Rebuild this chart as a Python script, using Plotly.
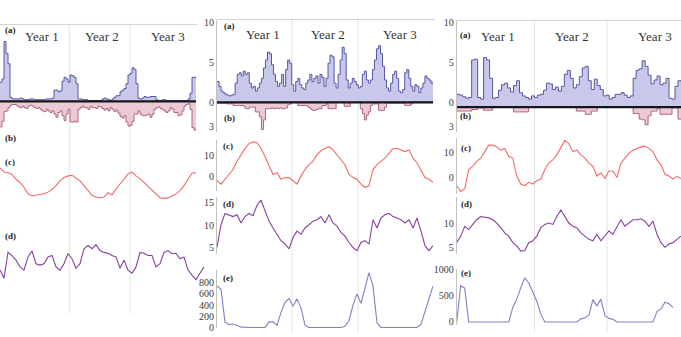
import numpy as np
import plotly.graph_objects as go

W, H = 681, 337
SERIF = "Liberation Serif, DejaVu Serif, serif"

# ---------------- data ----------------
year_labels = ["Year 1", "Year 2", "Year 3"]
panel_letters = ["(a)", "(b)", "(c)", "(d)", "(e)"]

# time span of each record (years) and year boundaries
left_span, left_d_span = 3.0, 3.12
mid_span, right_span = 3.0, 3.0
year_breaks_left = [1.06, 1.99]
year_breaks_mid = [1.04, 1.96]
year_breaks_right = [1.04, 2.01]

# ---- left panel ----
left_a = [2.4, 2.8, 7.5, 6.0, 4.7, 0.5, 0.3, 0.3, 0.3, 0.3,
          0.4, 0.3, 0.2, 0.2, 0.2, 0.3, 0.3, 0.2, 0.2, 0.2,
          0.2, 0.2, 0.2, 0.3, 0.3, 0.3, 0.4, 1.4, 1.4, 1.2,
          1.3, 2.5, 3.0, 2.8, 2.4, 3.3, 3.2, 3.0, 2.2, 0.3,
          0.3, 0.2, 0.2, 0.2, 0.1, 0.1, 0.1, 0.1, 0.1, 0.1,
          0.1, 0.3, 0.4, 0.3, 0.2, 0.1, 0.3, 0.5, 0.7, 0.7,
          1.2, 1.4, 1.6, 2.2, 3.3, 3.5, 4.2, 4.0, 2.2, 0.4,
          0.3, 0.4, 0.6, 0.5, 0.5, 0.6, 0.6, 0.6, 0.2, 0.1,
          0.1, 0.2, 0.2, 0.1, 0.1, 0.1, 0.1, 0.1, 0.1, 0.1,
          0.1, 0.1, 0.1, 0.1, 0.3, 1.0, 3.0, 3.0, 2.8]
left_b = [3.2, 2.5, 1.3, 1.2, 0.8, 0.5, 0.4, 0.4, 0.5, 0.7,
          0.8, 0.6, 0.8, 0.9, 0.6, 0.5, 0.6, 0.8, 0.9, 0.8,
          1.0, 1.2, 1.3, 1.0, 1.2, 1.4, 1.2, 1.6, 2.0, 1.4,
          1.2, 1.8, 2.4, 1.6, 1.0, 2.6, 2.6, 2.5, 2.6, 1.0,
          0.8, 0.6, 0.8, 0.8, 1.0, 0.6, 0.8, 0.8, 0.9, 0.6,
          0.7, 0.9, 1.1, 0.9, 1.2, 0.8, 1.0, 1.3, 1.1, 1.5,
          1.9, 2.1, 1.8, 2.6, 3.1, 3.0, 2.5, 1.6, 1.6, 1.2,
          1.6, 1.8, 1.8, 1.7, 1.6, 2.0, 1.6, 1.0, 0.8, 0.7,
          0.9, 1.0, 1.2, 1.4, 1.2, 0.8, 1.0, 1.4, 1.4, 1.8,
          1.7, 1.2, 0.6, 0.4, 0.3, 1.0, 3.3, 3.6, 3.4]
left_c = [9.8, 7.9, 7.6, 6.8, 4.5, 3.0, 0.8, -2.3, -3.3, -3.0,
          -2.7, -2.3, -1.5, -0.3, 1.5, 3.8, 5.3, 6.1, 6.4, 5.3,
          3.8, 1.5, -0.8, -3.0, -3.8, -4.1, -3.8, -1.8, -2.7, 0.0,
          2.3, 4.5, 7.0, 8.0, 6.1, 4.8, 3.0, 1.2, -0.8, -2.7,
          -4.1, -4.4, -4.2, -3.3, -2.3, -0.8, 1.5, 4.5, 7.3, 7.6]
left_d = [5.7, 3.9, 9.6, 8.9, 7.9, 6.4, 5.7, 8.6, 9.9, 7.1,
          6.8, 7.1, 8.6, 8.9, 6.4, 5.7, 7.1, 9.3, 8.2, 6.1,
          7.1, 10.4, 11.1, 10.4, 11.3, 10.0, 9.6, 9.4, 8.9, 8.6,
          6.1, 7.9, 5.7, 5.0, 6.4, 9.6, 9.4, 8.9, 8.9, 6.4,
          7.1, 9.6, 10.0, 9.3, 9.4, 8.2, 8.6, 5.7, 4.6, 3.6,
          5.0, 6.4]

# ---- middle panel ----
mid_a = [2.6, 2.0, 1.4, 1.2, 1.0, 0.9, 0.8, 0.9, 1.0, 2.4,
         3.5, 3.7, 3.3, 3.9, 3.5, 3.7, 2.4, 1.8, 2.0, 1.4,
         1.8, 2.4, 3.0, 4.3, 5.3, 6.3, 6.1, 4.7, 3.5, 2.6,
         2.0, 2.4, 3.5, 2.0, 4.1, 5.3, 4.9, 2.2, 1.4, 2.6,
         3.0, 2.2, 1.8, 1.6, 2.4, 2.8, 3.5, 2.6, 3.0, 3.3,
         2.4, 3.5, 3.1, 2.0, 3.0, 4.9, 5.9, 5.7, 2.4, 1.8,
         3.5, 5.3, 6.9, 6.1, 2.8, 1.8, 2.4, 3.0, 2.6, 2.2,
         1.8, 2.0, 3.5, 3.9, 2.8, 2.4, 2.8, 4.1, 5.3, 6.7,
         7.1, 6.1, 4.5, 2.8, 1.8, 1.4, 2.4, 3.5, 3.9, 3.0,
         1.4, 1.2, 1.6, 3.7, 4.1, 3.0, 2.0, 1.4, 2.2, 2.0,
         1.2, 1.8, 2.4, 3.3, 3.0, 2.8, 2.4, 2.6]
mid_b = [0.1, 0.1, 0.1, 0.1, 0.1, 0.2, 0.2, 0.2, 0.4, 0.4,
         0.4, 0.4, 0.4, 0.5, 0.8, 0.8, 0.6, 0.6, 0.6, 1.2,
         1.2, 1.8, 3.4, 2.2, 0.8, 0.8, 0.8, 0.7, 0.8, 0.7,
         0.8, 0.7, 0.8, 0.8, 0.7, 0.3, 0.2, 0.0, 0.0, 0.0,
         0.4, 0.4, 0.4, 0.4, 0.4, 0.6, 0.8, 1.0, 1.0, 0.9,
         0.8, 0.8, 0.4, 0.4, 0.2, 0.8, 0.8, 0.8, 0.8, 0.0,
         0.0, 0.0, 0.0, 0.5, 0.5, 0.5, 0.0, 0.0, 0.0, 0.0,
         0.0, 0.8, 1.4, 2.2, 1.6, 1.2, 0.4, 0.2, 0.2, 0.2,
         1.0, 1.0, 1.0, 0.6, 0.1, 0.1, 0.1, 0.1, 0.1, 0.1,
         0.1, 0.1, 0.1, 0.4, 0.4, 0.4, 0.2, 0.0, 0.0, 0.0,
         0.0, 0.0, 0.0, 0.0, 0.0, 0.0, 0.0, 0.0]
mid_c = [-1.8, -3.4, -1.1, 1.2, 3.5, 7.4, 10.5, 13.5, 15.8, 16.6,
         16.2, 13.5, 9.7, 5.1, 1.2, 2.0, -1.1, -0.3, -0.3, -1.8,
         -3.4, 0.5, 3.5, 5.8, 7.4, 10.5, 12.5, 13.5, 14.3, 12.8,
         10.5, 8.2, 5.8, 1.2, -0.3, -1.1, -3.4, -4.9, -4.2, 3.5,
         5.8, 7.4, 8.9, 11.2, 13.5, 13.5, 12.8, 12.0, 12.8, 8.9,
         6.6, 2.8, -0.3, -1.1, -2.6]
mid_d = [5.1, 10.1, 12.6, 12.3, 11.9, 12.3, 10.5, 11.9, 12.6, 12.1,
         14.4, 15.5, 13.0, 10.9, 9.4, 8.0, 6.6, 5.9, 4.8, 7.3,
         8.7, 8.0, 9.4, 10.1, 10.9, 11.2, 11.9, 10.5, 12.3, 10.5,
         9.8, 8.4, 7.6, 6.2, 5.1, 4.4, 6.2, 6.6, 5.9, 11.2,
         9.4, 11.6, 12.3, 12.6, 11.9, 11.6, 11.2, 10.5, 11.2, 9.4,
         11.6, 8.7, 5.5, 4.4, 5.5]
mid_e = [740, 680, 100, 50, 60, 40, 5, 0, 0, 0,
         0, 0, 0, 100, 100, 40, 270, 450, 520, 380,
         510, 350, 40, 0, 0, 0, 0, 0, 0, 0,
         0, 0, 20, 120, 400, 600, 430, 720, 980, 740,
         80, 0, 0, 0, 0, 0, 0, 0, 0, 0,
         0, 60, 300, 520, 740]

# ---- right panel ----
right_a = [1.0, 0.9, 0.7, 0.5, 0.6, 5.3, 5.4, 0.6, 0.4, 5.6,
           5.3, 3.0, 0.5, 0.6, 1.5, 2.2, 2.4, 1.8, 1.3, 2.1,
           2.7, 1.2, 0.8, 0.6, 0.4, 0.8, 0.6, 0.9, 1.0, 1.5,
           2.4, 2.3, 1.6, 1.9, 1.4, 2.0, 3.5, 4.0, 3.0, 1.8,
           2.2, 3.2, 4.3, 4.5, 2.7, 1.6, 2.9, 2.1, 1.6, 0.8,
           0.9, 0.4, 0.6, 1.0, 1.0, 1.2, 0.9, 0.6, 0.8, 3.0,
           4.0, 4.2, 5.2, 4.5, 3.4, 2.3, 2.8, 3.3, 2.2, 2.4,
           3.0, 0.5, 0.4, 2.0, 2.7, 2.6]
right_b = [0.5, 0.5, 0.5, 0.5, 0.5, 0.3, 0.3, 0.1, 0.1, 0.4,
           0.4, 0.4, 0.0, 0.0, 0.0, 0.0, 0.0, 0.0, 0.0, 0.6,
           0.6, 0.6, 0.6, 0.6, 0.0, 0.0, 0.0, 0.0, 0.0, 0.0,
           0.0, 0.0, 0.0, 0.0, 0.0, 0.0, 0.0, 0.0, 0.0, 0.0,
           0.5, 0.5, 0.5, 0.9, 0.9, 0.5, 0.5, 0.0, 0.0, 0.0,
           0.0, 0.0, 0.0, 0.0, 0.0, 0.0, 0.0, 0.0, 0.0, 0.8,
           0.8, 1.5, 1.6, 2.2, 1.1, 0.5, 0.5, 0.2, 0.9, 0.9,
           0.9, 0.9, 0.1, 0.1, 1.5, 1.5]
right_c = [-3.2, -5.6, -4.5, 3.2, 4.5, 6.5, 7.8, 10.4, 13.0, 13.0,
           12.3, 11.0, 11.7, 8.4, 7.8, 0.6, -2.6, -3.2, -1.9, -2.6,
           -1.3, -0.6, 3.2, 5.8, 7.1, 9.1, 12.3, 14.9, 13.6, 10.4,
           11.0, 9.1, 7.8, 5.8, 4.5, 0.6, 1.9, -0.4, 2.6, 2.6,
           0.0, 5.8, 7.8, 9.7, 11.0, 11.7, 12.3, 12.6, 11.7, 10.4,
           7.1, 5.2, 1.3, 0.6, -0.6, 0.6, -0.4]
right_d = [6.0, 7.4, 9.5, 8.8, 9.9, 10.9, 11.6, 11.4, 11.3, 10.9,
           10.2, 9.2, 8.1, 7.4, 6.0, 5.3, 4.2, 4.3, 6.0, 6.4,
           7.4, 9.2, 9.9, 10.2, 9.9, 11.6, 13.0, 11.6, 10.2, 9.5,
           9.2, 8.1, 7.4, 6.7, 6.4, 7.8, 6.4, 7.4, 8.5, 7.8,
           9.2, 10.9, 9.5, 10.2, 10.9, 10.9, 11.1, 10.6, 9.5, 10.6,
           7.8, 6.0, 5.0, 5.7, 6.0, 6.7, 7.4]
right_e = [0, 700, 650, 0, 0, 0, 0, 0, 0, 0,
           0, 0, 0, 0, 280, 440, 660, 850, 750, 580,
           400, 150, 0, 0, 0, 0, 0, 0, 0, 0,
           0, 60, 80, 125, 430, 310, 440, 120, 70, 50,
           0, 0, 0, 0, 0, 0, 0, 0, 0, 0,
           200, 250, 380, 350, 280, None, None]

ab_ticks, ab_text = [10, 5, 0, -3], ["10", "5", "0", "3"]
mid_c_ticks = [10, 0]
mid_d_ticks = [15, 10, 5]
mid_e_ticks = [800, 600, 400, 200, 0]
right_c_ticks = [10, 0]
right_d_ticks = [10, 5]
right_e_ticks = [1000, 500, 0]

# ---------------- styles ----------------
A_LINE, A_FILL = "#5656a6", "rgba(190,190,232,0.85)"
B_LINE, B_FILL = "#b0647e", "rgba(234,196,208,0.9)"
C_LINE, D_LINE, E_LINE = "#f26a6a", "#86409e", "#8080c8"
GRID = "#e2e2e2"

fig = go.Figure()
axes_layout = {}
count = {"n": 0}


def fx(p):
    return p / W


def fy(p):
    return 1 - p / H


def make_axes(xpx, ypx, yrange, xrange=(0, 3.0), tickvals=None, ticktext=None, linecolor="#c2c2c2"):
    count["n"] += 1
    s = "" if count["n"] == 1 else str(count["n"])
    axes_layout["xaxis" + s] = dict(domain=[fx(xpx[0]), fx(xpx[1])], range=list(xrange),
                                    visible=False, anchor="y" + s, fixedrange=True)
    ya = dict(domain=[fy(ypx[1]), fy(ypx[0])], range=list(yrange), anchor="x" + s,
              showgrid=False, zeroline=False, showline=True, linecolor=linecolor, linewidth=1,
              ticks="", fixedrange=True,
              tickfont=dict(family=SERIF, size=10, color="#3a3a3a"))
    if tickvals is None:
        ya["showticklabels"] = False
    else:
        ya["tickmode"] = "array"
        ya["tickvals"] = tickvals
        ya["ticktext"] = ticktext if ticktext is not None else [str(v) for v in tickvals]
    axes_layout["yaxis" + s] = ya
    return "x" + s, "y" + s


def tr(t, y, ax, color, width=1.1, shape="linear", **kw):
    return go.Scatter(x=t, y=y, xaxis=ax[0], yaxis=ax[1], mode="lines",
                      line=dict(color=color, width=width, shape=shape),
                      hoverinfo="skip", showlegend=False, **kw)


def add_ab(ax, a, b, span, base):
    ta = np.linspace(0, span, len(a))
    tb = np.linspace(0, span, len(b))
    fig.add_trace(tr(ta, np.full(len(a), base), ax, "rgba(0,0,0,0)", width=0))
    fig.add_trace(tr(ta, np.array(a), ax, A_LINE, width=1, shape="hv", fill="tonexty", fillcolor=A_FILL))
    fig.add_trace(tr(tb, np.full(len(b), base), ax, "rgba(0,0,0,0)", width=0))
    fig.add_trace(tr(tb, base - np.array(b), ax, B_LINE, width=1, shape="hv", fill="tonexty", fillcolor=B_FILL))
    fig.add_trace(tr([0, span], [base, base], ax, "#161616", width=2.2))


def add_line(ax, vals, span, color):
    t = np.linspace(0, span, len(vals))
    fig.add_trace(tr(t, vals, ax, color, width=1.1))


shapes, anns = [], []


def year_lines(ax, breaks, ytop, ybot):
    for b in breaks:
        shapes.append(dict(type="line", xref=ax[0], yref="paper", x0=b, x1=b,
                           y0=fy(ybot), y1=fy(ytop), line=dict(color=GRID, width=1), layer="below"))


def top_border(x0, x1, y):
    shapes.append(dict(type="line", xref="paper", yref="paper", x0=fx(x0), x1=fx(x1),
                       y0=fy(y), y1=fy(y), line=dict(color="#d4d4d4", width=1), layer="below"))


def label(text, x, y, size=9, bold=True, anchor="left", color="#262626"):
    anns.append(dict(text=f"<b>{text}</b>" if bold else text, x=fx(x), y=fy(y), xref="paper", yref="paper",
                     xanchor=anchor, yanchor="middle", showarrow=False,
                     font=dict(family=SERIF, size=size, color=color)))


# ---------------- left panel ----------------
L0, L1 = 0, 196
ax = make_axes((L0, L1), (21, 135), (-4.27, 9.63), linecolor="#ececec")
add_ab(ax, left_a, left_b, left_span, 0.0)
year_lines(ax, year_breaks_left, 21, 318)
top_border(0, 197, 21)
ax = make_axes((L0, L1), (150, 210), (-9.1, 18.2), linecolor="#ececec")
add_line(ax, left_c, left_span, C_LINE)
ax = make_axes((L0, 204), (230, 300), (0, 15.0), xrange=(0, left_d_span), linecolor="#ececec")
add_line(ax, left_d, left_d_span, D_LINE)

# ---------------- middle panel ----------------
M0, M1 = 217, 433
ax = make_axes((M0, M1), (16, 132), (-3.78, 10.37), tickvals=ab_ticks, ticktext=ab_text)
add_ab(ax, mid_a, mid_b, mid_span, 0.0)
year_lines(ax, year_breaks_mid, 16, 337)
top_border(217, 435, 16)
ax = make_axes((M0, M1), (140, 192), (-6.59, 17.37), tickvals=mid_c_ticks)
add_line(ax, mid_c, mid_span, C_LINE)
ax = make_axes((M0, M1), (198, 257), (3.64, 16.27), tickvals=mid_d_ticks)
add_line(ax, mid_d, mid_span, D_LINE)
ax = make_axes((M0, M1), (273, 333), (-12, 1031), tickvals=mid_e_ticks)
add_line(ax, mid_e, mid_span, E_LINE)

# ---------------- right panel ----------------
R0, R1 = 456.7, 681
ax = make_axes((R0, R1), (17, 132), (-3.78, 10.24), tickvals=ab_ticks, ticktext=ab_text)
add_ab(ax, right_a, right_b, right_span, -0.6)
year_lines(ax, year_breaks_right, 17, 337)
top_border(456, 681, 17)
ax = make_axes((R0, R1), (138, 195), (-6.52, 15.74), tickvals=right_c_ticks)
add_line(ax, right_c, right_span, C_LINE)
ax = make_axes((R0, R1), (198, 257), (3.54, 15.83), tickvals=right_d_ticks)
add_line(ax, right_d, right_span, D_LINE)
ax = make_axes((R0, R1), (272, 330), (-62, 1024), tickvals=right_e_ticks)
add_line(ax, right_e, right_span, E_LINE)

# ---------------- labels ----------------
for x, y, letters in [
    ((3, 3, 3, 3), (27, 138, 162, 238), panel_letters[:4]),
    ((222, 222, 221, 221, 221), (23, 117, 146, 205, 282), panel_letters),
    ((458, 458, 459, 459, 459), (32, 115, 148, 205, 276), panel_letters),
]:
    for xi, yi, t in zip(x, y, letters):
        label(t, xi, yi)

for xs, y in [((42, 102, 168), 33), ((263, 328, 400), 31), ((498, 572, 655), 33)]:
    for xi, t in zip(xs, year_labels):
        label(t, xi, y, size=13, bold=False, anchor="center", color="#333333")

fig.update_layout(
    width=W, height=H, margin=dict(l=0, r=0, t=0, b=0),
    paper_bgcolor="white", plot_bgcolor="rgba(0,0,0,0)",
    showlegend=False, shapes=shapes, annotations=anns,
    **axes_layout,
)

fig.write_html("out.html")
